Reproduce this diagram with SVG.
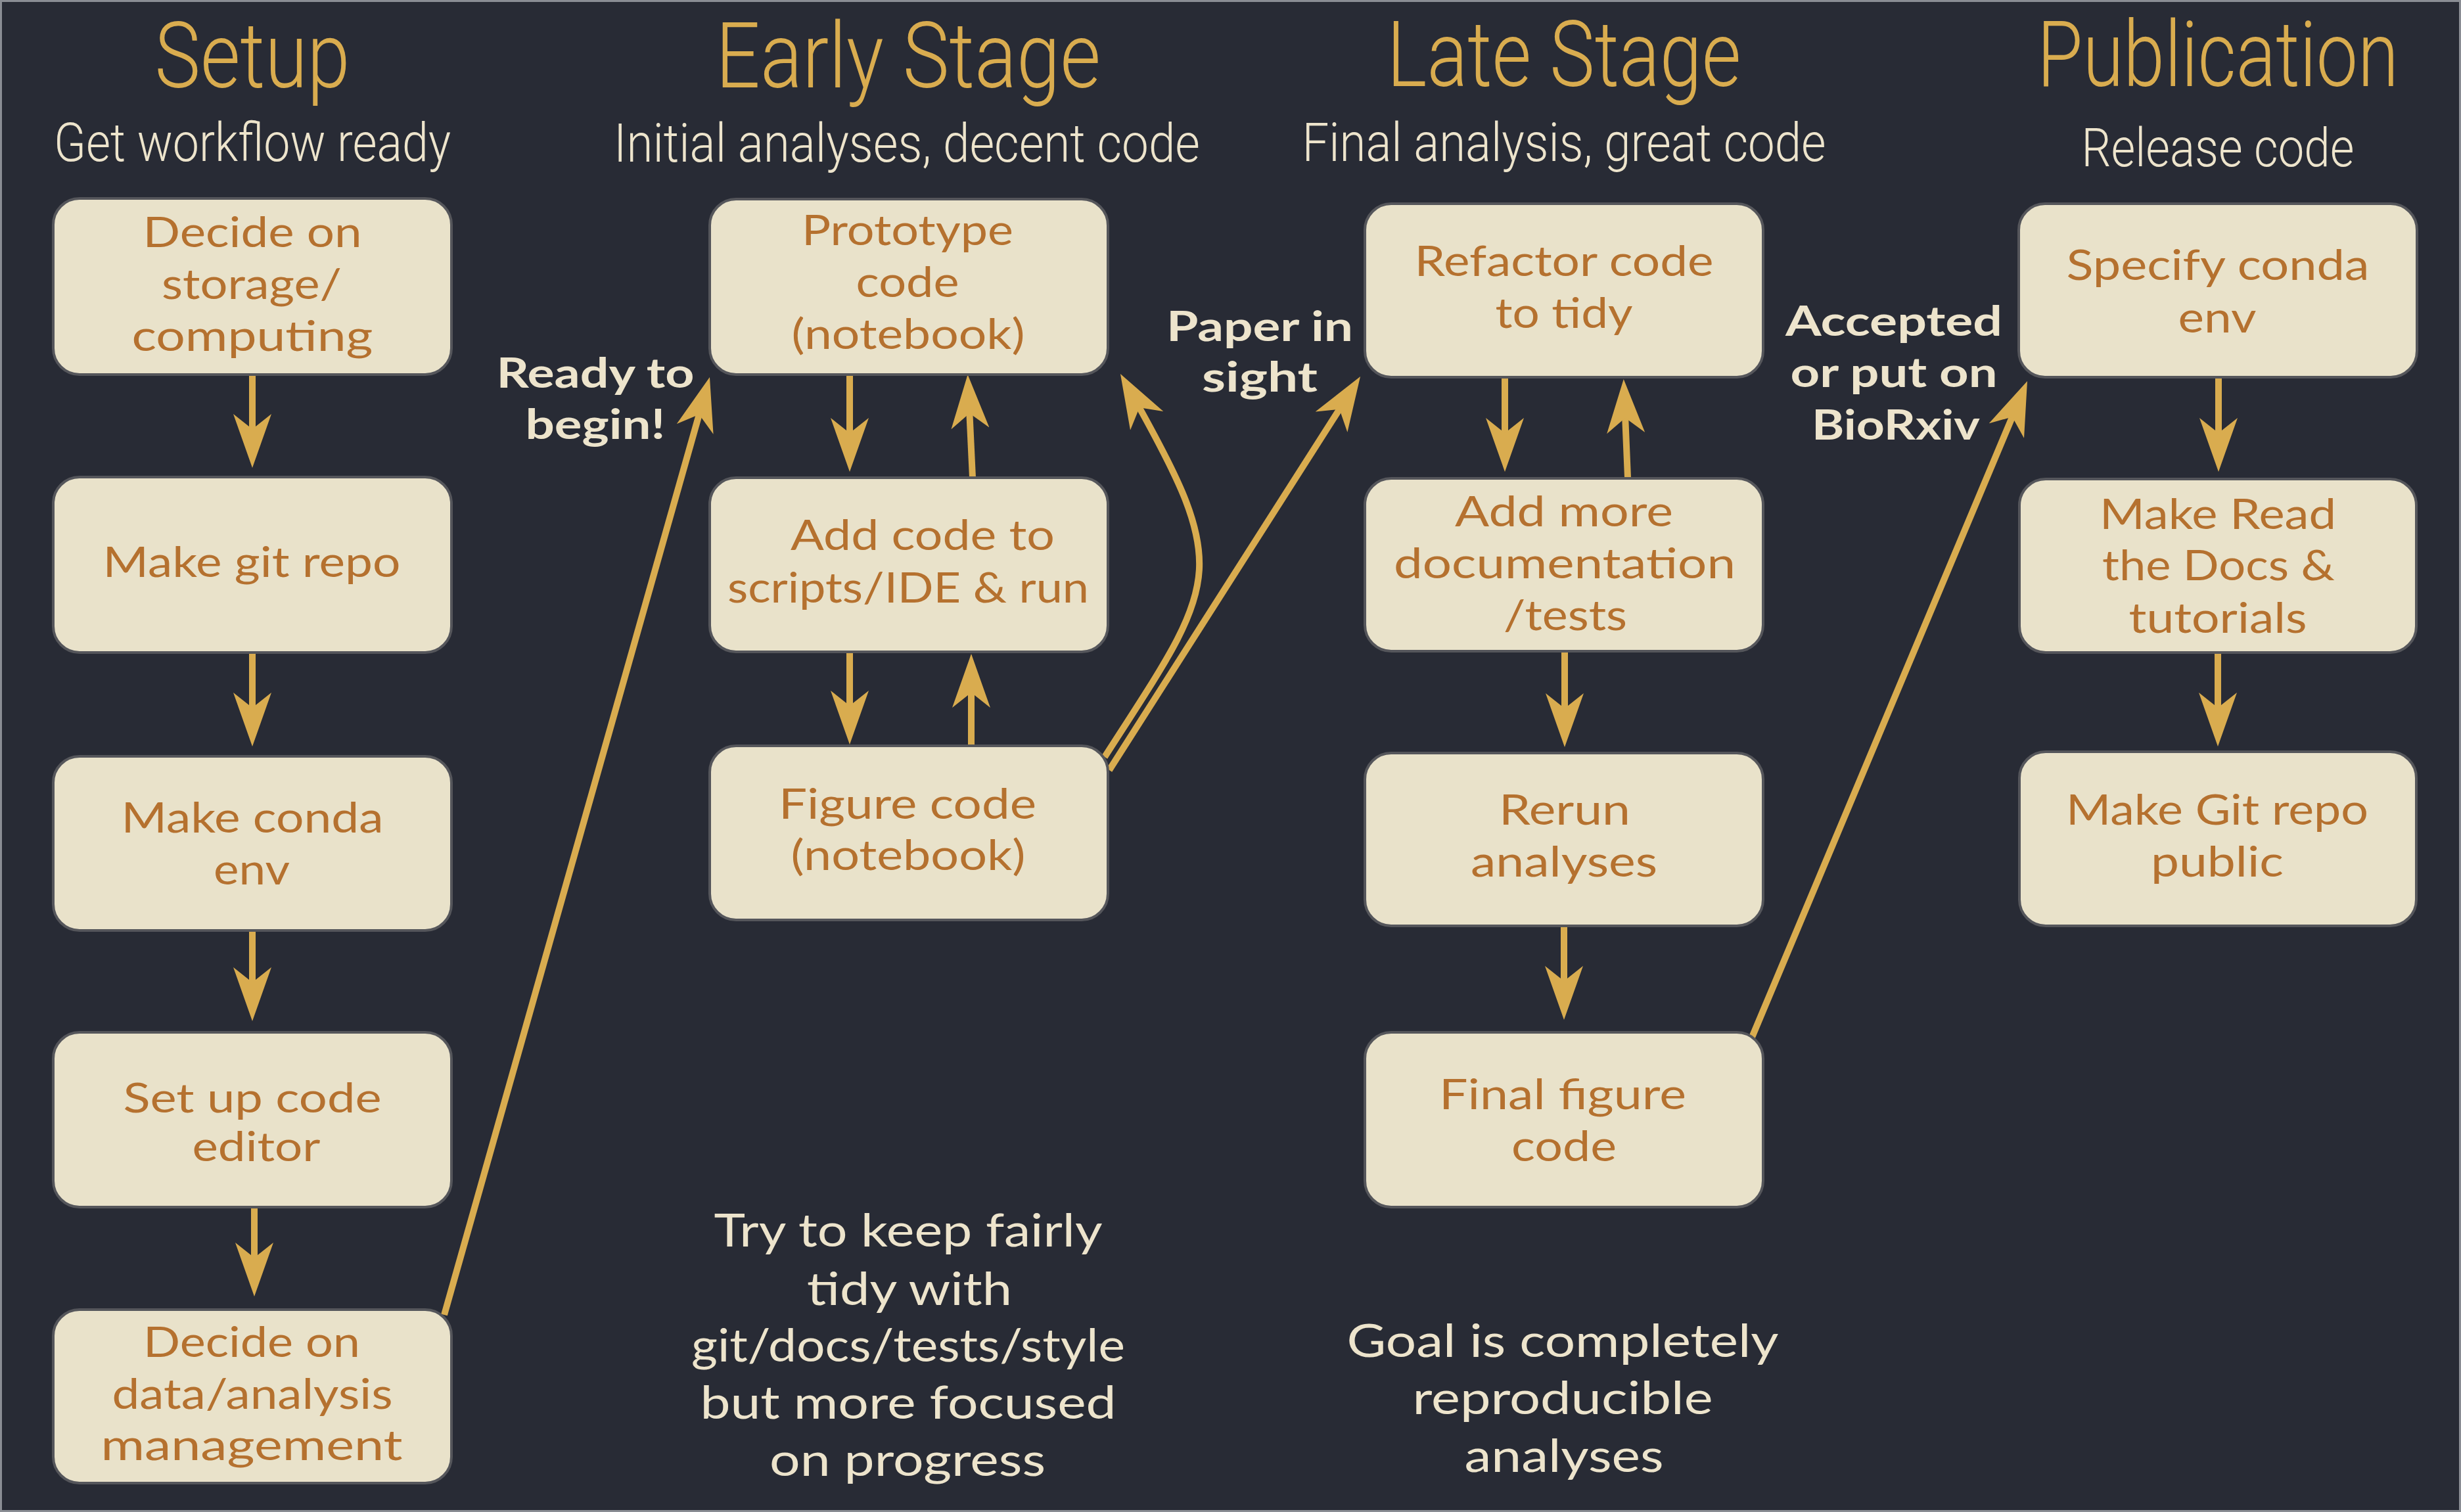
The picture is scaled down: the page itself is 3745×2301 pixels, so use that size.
<svg xmlns="http://www.w3.org/2000/svg" width="3745" height="2301" viewBox="0 0 3745 2301">
<defs>
<style>
.bg{fill:#282B35;stroke:#8A8D94;stroke-width:3}
.nb{fill:#E9E2CA;stroke:#55565B;stroke-width:4}
.bt{font-family:Lato,"Open Sans",sans-serif;font-size:64px;fill:#B5712F;text-anchor:middle;font-weight:400}
.tt{font-family:Roboto,"Noto Sans",sans-serif;font-size:139px;fill:#D9AC4F;text-anchor:middle;font-weight:300}
.st{font-family:Roboto,"Noto Sans",sans-serif;font-size:82px;fill:#EDE4CC;text-anchor:middle;font-weight:300}
.lb{font-family:Lato,"Open Sans",sans-serif;font-size:63px;fill:#EDE4CC;text-anchor:middle;font-weight:700}
.nt{font-family:Lato,"Open Sans",sans-serif;font-size:70px;fill:#EDE4CC;text-anchor:middle;font-weight:400}
.cn{fill:none;stroke:#D9AC4F;stroke-width:10}
</style>
<marker id="ah" markerUnits="userSpaceOnUse" markerWidth="82" markerHeight="58" viewBox="0 0 82 58" refX="52" refY="29" orient="auto">
<path d="M0,0 L82,29 L0,58 L23,29 Z" fill="#D9AC4F"/>
</marker>
</defs>
<rect class="bg" x="1.5" y="1.5" width="3742" height="2298"/>

<g id="headers">
<text class="tt" x="384" y="133" textLength="297" lengthAdjust="spacingAndGlyphs">Setup</text>
<text class="st" x="384" y="245" textLength="604" lengthAdjust="spacingAndGlyphs">Get workflow ready</text>
<text class="tt" x="1382" y="133" textLength="586" lengthAdjust="spacingAndGlyphs">Early Stage</text>
<text class="st" x="1380" y="246" textLength="892" lengthAdjust="spacingAndGlyphs">Initial analyses, decent code</text>
<text class="tt" x="2380" y="131" textLength="539" lengthAdjust="spacingAndGlyphs">Late Stage</text>
<text class="st" x="2380" y="245" textLength="797" lengthAdjust="spacingAndGlyphs">Final analysis, great code</text>
<text class="tt" x="3375" y="131" textLength="550" lengthAdjust="spacingAndGlyphs">Publication</text>
<text class="st" x="3375" y="253" textLength="415" lengthAdjust="spacingAndGlyphs">Release code</text>
</g>

<g id="connectors">
<path class="cn" d="M384,570 V682" marker-end="url(#ah)"/>
<path class="cn" d="M384,993 V1106" marker-end="url(#ah)"/>
<path class="cn" d="M384,1416 V1524" marker-end="url(#ah)"/>
<path class="cn" d="M387,1837 V1943" marker-end="url(#ah)"/>
<path class="cn" d="M1293,570 V688" marker-end="url(#ah)"/>
<path class="cn" d="M1480,727 L1474,600" marker-end="url(#ah)"/>
<path class="cn" d="M1293,992 V1103" marker-end="url(#ah)"/>
<path class="cn" d="M1478,1135 V1025" marker-end="url(#ah)"/>
<path class="cn" d="M2290,574 V688" marker-end="url(#ah)"/>
<path class="cn" d="M2477,727 L2472,607" marker-end="url(#ah)"/>
<path class="cn" d="M2381,991 V1107" marker-end="url(#ah)"/>
<path class="cn" d="M2380,1409 V1522" marker-end="url(#ah)"/>
<path class="cn" d="M3376,574 V688" marker-end="url(#ah)"/>
<path class="cn" d="M3375,993 V1106" marker-end="url(#ah)"/>
<path class="cn" d="M676,2001 L1071.8,602.9" marker-end="url(#ah)"/>
<path class="cn" d="M1688,1172 L2053.9,598.3" marker-end="url(#ah)"/>
<path class="cn" d="M1681,1152 C1854,883 1876.7,873.1 1719.7,595.1" marker-end="url(#ah)"/>
<path class="cn" d="M2665,1581 L3073.4,607.7" marker-end="url(#ah)"/>
</g>

<g id="labels">
<text class="lb" x="906" y="590" textLength="301" lengthAdjust="spacingAndGlyphs">Ready to</text>
<text class="lb" x="906" y="668" textLength="213" lengthAdjust="spacingAndGlyphs">begin!</text>
<text class="lb" x="1917" y="519" textLength="284" lengthAdjust="spacingAndGlyphs">Paper in</text>
<text class="lb" x="1917" y="596" textLength="176" lengthAdjust="spacingAndGlyphs">sight</text>
<text class="lb" x="2882" y="511" textLength="330" lengthAdjust="spacingAndGlyphs">Accepted</text>
<text class="lb" x="2882" y="589" textLength="315" lengthAdjust="spacingAndGlyphs">or put on</text>
<text class="lb" x="2885" y="669" textLength="256" lengthAdjust="spacingAndGlyphs">BioRxiv</text>
</g>

<g id="node-storage">
<rect class="nb" x="81" y="302" width="606" height="268" rx="40"/>
<text class="bt" x="384" y="376" textLength="333" lengthAdjust="spacingAndGlyphs">Decide on</text>
<text class="bt" x="383" y="455" textLength="274" lengthAdjust="spacingAndGlyphs">storage/</text>
<text class="bt" x="384" y="534" textLength="367" lengthAdjust="spacingAndGlyphs">computing</text>
</g>
<g id="node-git">
<rect class="nb" x="81" y="726" width="606" height="267" rx="40"/>
<text class="bt" x="383" y="878" textLength="453" lengthAdjust="spacingAndGlyphs">Make git repo</text>
</g>
<g id="node-conda">
<rect class="nb" x="81" y="1151" width="606" height="265" rx="40"/>
<text class="bt" x="384" y="1267" textLength="399" lengthAdjust="spacingAndGlyphs">Make conda</text>
<text class="bt" x="383" y="1346" textLength="116" lengthAdjust="spacingAndGlyphs">env</text>
</g>
<g id="node-editor">
<rect class="nb" x="81" y="1571" width="606" height="266" rx="40"/>
<text class="bt" x="384" y="1693" textLength="393" lengthAdjust="spacingAndGlyphs" style="font-size:61px">Set up code</text>
<text class="bt" x="390" y="1767" textLength="195" lengthAdjust="spacingAndGlyphs" style="font-size:61px">editor</text>
</g>
<g id="node-data">
<rect class="nb" x="81" y="1993" width="606" height="264" rx="40"/>
<text class="bt" x="383" y="2065" textLength="330" lengthAdjust="spacingAndGlyphs">Decide on</text>
<text class="bt" x="384" y="2144" textLength="427" lengthAdjust="spacingAndGlyphs">data/analysis</text>
<text class="bt" x="383" y="2222" textLength="459" lengthAdjust="spacingAndGlyphs">management</text>
</g>

<g id="node-prototype">
<rect class="nb" x="1080" y="303" width="606" height="267" rx="40"/>
<text class="bt" x="1381" y="373" textLength="322" lengthAdjust="spacingAndGlyphs">Prototype</text>
<text class="bt" x="1381" y="452" textLength="157" lengthAdjust="spacingAndGlyphs">code</text>
<text class="bt" x="1382" y="531" textLength="355" lengthAdjust="spacingAndGlyphs">(notebook)</text>
</g>
<g id="node-scripts">
<rect class="nb" x="1080" y="727" width="606" height="265" rx="40"/>
<text class="bt" x="1404" y="837" textLength="402" lengthAdjust="spacingAndGlyphs">Add code to</text>
<text class="bt" x="1382" y="917" textLength="550" lengthAdjust="spacingAndGlyphs">scripts/IDE &amp; run</text>
</g>
<g id="node-figure">
<rect class="nb" x="1080" y="1135" width="606" height="265" rx="40"/>
<text class="bt" x="1381" y="1246" textLength="392" lengthAdjust="spacingAndGlyphs">Figure code</text>
<text class="bt" x="1382" y="1324" textLength="357" lengthAdjust="spacingAndGlyphs">(notebook)</text>
</g>

<g id="node-refactor">
<rect class="nb" x="2077" y="310" width="606" height="264" rx="40"/>
<text class="bt" x="2380" y="420" textLength="455" lengthAdjust="spacingAndGlyphs">Refactor code</text>
<text class="bt" x="2380" y="499" textLength="209" lengthAdjust="spacingAndGlyphs">to tidy</text>
</g>
<g id="node-docs">
<rect class="nb" x="2077" y="728" width="606" height="263" rx="40"/>
<text class="bt" x="2380" y="801" textLength="332" lengthAdjust="spacingAndGlyphs">Add more</text>
<text class="bt" x="2381" y="880" textLength="520" lengthAdjust="spacingAndGlyphs">documentation</text>
<text class="bt" x="2382" y="959" textLength="188" lengthAdjust="spacingAndGlyphs">/tests</text>
</g>
<g id="node-rerun">
<rect class="nb" x="2077" y="1146" width="606" height="263" rx="40"/>
<text class="bt" x="2381" y="1255" textLength="200" lengthAdjust="spacingAndGlyphs">Rerun</text>
<text class="bt" x="2380" y="1334" textLength="284" lengthAdjust="spacingAndGlyphs">analyses</text>
</g>
<g id="node-final">
<rect class="nb" x="2077" y="1571" width="606" height="266" rx="40"/>
<text class="bt" x="2378" y="1688" textLength="376" lengthAdjust="spacingAndGlyphs">Final figure</text>
<text class="bt" x="2380" y="1767" textLength="160" lengthAdjust="spacingAndGlyphs">code</text>
</g>

<g id="node-specify">
<rect class="nb" x="3072" y="310" width="606" height="264" rx="40"/>
<text class="bt" x="3375" y="426" textLength="461" lengthAdjust="spacingAndGlyphs">Specify conda</text>
<text class="bt" x="3374" y="506" textLength="119" lengthAdjust="spacingAndGlyphs">env</text>
</g>
<g id="node-readthedocs">
<rect class="nb" x="3073" y="729" width="604" height="264" rx="40"/>
<text class="bt" x="3375" y="805" textLength="360" lengthAdjust="spacingAndGlyphs">Make Read</text>
<text class="bt" x="3376" y="883" textLength="354" lengthAdjust="spacingAndGlyphs">the Docs &amp;</text>
<text class="bt" x="3375" y="963" textLength="271" lengthAdjust="spacingAndGlyphs">tutorials</text>
</g>
<g id="node-public">
<rect class="nb" x="3073" y="1144" width="604" height="265" rx="40"/>
<text class="bt" x="3374" y="1255" textLength="460" lengthAdjust="spacingAndGlyphs">Make Git repo</text>
<text class="bt" x="3374" y="1334" textLength="202" lengthAdjust="spacingAndGlyphs">public</text>
</g>

<g id="notes">
<text class="nt" x="1382" y="1897" textLength="591" lengthAdjust="spacingAndGlyphs">Try to keep fairly</text>
<text class="nt" x="1384" y="1986" textLength="312" lengthAdjust="spacingAndGlyphs">tidy with</text>
<text class="nt" x="1382" y="2072" textLength="660" lengthAdjust="spacingAndGlyphs">git/docs/tests/style</text>
<text class="nt" x="1382" y="2159" textLength="633" lengthAdjust="spacingAndGlyphs">but more focused</text>
<text class="nt" x="1381" y="2246" textLength="420" lengthAdjust="spacingAndGlyphs">on progress</text>
<text class="nt" x="2378" y="2065" textLength="657" lengthAdjust="spacingAndGlyphs">Goal is completely</text>
<text class="nt" x="2378" y="2152" textLength="457" lengthAdjust="spacingAndGlyphs">reproducible</text>
<text class="nt" x="2380" y="2240" textLength="303" lengthAdjust="spacingAndGlyphs">analyses</text>
</g>
</svg>
